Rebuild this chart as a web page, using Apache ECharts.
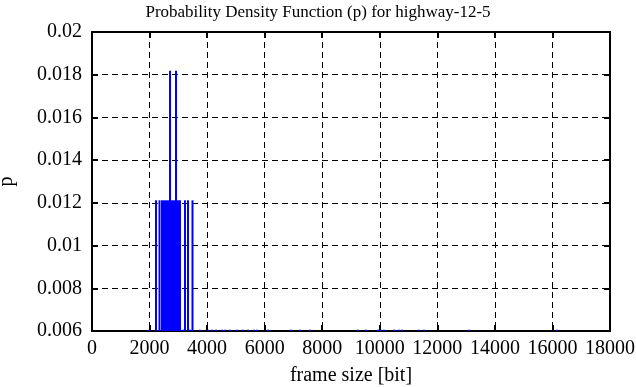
<!DOCTYPE html>
<html>
<head>
<meta charset="utf-8">
<script src="https://cdn.jsdelivr.net/npm/echarts@6/dist/echarts.min.js"></script>
<style>
html,body{margin:0;padding:0;background:#fff;}
#chart{width:636px;height:387px;}
</style>
</head>
<body>
<div id="chart"></div>
<script>
const titleText = 'Probability Density Function (p) for highway-12-5';
const xName = 'frame size [bit]';
const yName = 'p';
const xTicks = [0, 2000, 4000, 6000, 8000, 10000, 12000, 14000, 16000, 18000];
const yTicks = [0.006, 0.008, 0.01, 0.012, 0.014, 0.016, 0.018, 0.02];

const frameSizes = [
  1981, 2224, 2346, 2433, 2502, 2572, 2641, 2711, 2780, 2850, 2919, 2989, 3058,
  3162, 3232, 3336, 3406, 3492, 3753, 4031, 4170, 4309, 4518, 4622, 4796, 5039,
  5247, 5421, 5630, 5734, 6116, 6915, 7228, 7575, 9243, 9521, 9938, 10042, 10147,
  10495, 10668, 10773, 11363, 11537, 13101, 16159
];
const pValues = [
  0.00606, 0.01212, 0.01212, 0.01212, 0.01212, 0.01212, 0.01212, 0.01818, 0.01212, 0.01212, 0.01818, 0.01212, 0.01212,
  0.00606, 0.01212, 0.01212, 0.00606, 0.01212, 0.00606, 0.00606, 0.00606, 0.00606, 0.00606, 0.00606, 0.00606, 0.00606,
  0.00606, 0.00606, 0.00606, 0.00606, 0.00606, 0.00606, 0.00606, 0.00606, 0.00606, 0.00606, 0.00606, 0.00606, 0.00606,
  0.00606, 0.00606, 0.00606, 0.00606, 0.00606, 0.00606, 0.00606
];

const font = 'Liberation Serif';
const black = '#000';
const data = frameSizes.map((x, i) => [x, pValues[i]]);

function baseAxis(extra) {
  return Object.assign({
    type: 'value',
    axisLine: { show: true, onZero: false, lineStyle: { color: black, width: 2 } },
    axisTick: { show: true, inside: true, length: 6, lineStyle: { color: black, width: 2 } },
    minorTick: { show: false },
    splitLine: { show: false },
    axisLabel: { show: false }
  }, extra);
}

const chart = echarts.init(document.getElementById('chart'), null, { renderer: 'canvas' });
chart.setOption({
  animation: false,
  backgroundColor: '#fff',
  title: {
    text: titleText,
    left: 'center', top: -1,
    textStyle: { fontFamily: font, fontSize: 17, fontWeight: 'normal', color: black }
  },
  grid: { left: 92, right: 26, top: 32, bottom: 56, containLabel: false, outerBoundsMode: 'none' },
  xAxis: [
    baseAxis({
      position: 'bottom',
      min: xTicks[0], max: xTicks[xTicks.length - 1], interval: 2000,
      name: xName, nameLocation: 'middle', nameGap: 35,
      nameTextStyle: { fontFamily: font, fontSize: 20, color: black },
      axisLabel: {
        show: true, fontFamily: font, fontSize: 20, color: black, margin: 8,
        formatter: v => String(v)
      },
      splitLine: { show: true, lineStyle: { color: black, type: [6, 4], width: 1 } }
    }),
    baseAxis({
      position: 'top',
      min: xTicks[0], max: xTicks[xTicks.length - 1], interval: 2000
    })
  ],
  yAxis: [
    baseAxis({
      position: 'left',
      min: yTicks[0], max: yTicks[yTicks.length - 1], interval: 0.002,
      name: yName, nameLocation: 'middle', nameGap: 75,
      nameTextStyle: { fontFamily: font, fontSize: 20, color: black },
      axisLabel: {
        show: true, fontFamily: font, fontSize: 20, color: black, margin: 10,
        formatter: v => String(parseFloat(v.toFixed(4)))
      },
      splitLine: { show: true, lineStyle: { color: black, type: [6, 4], width: 1 } }
    }),
    baseAxis({
      position: 'right',
      min: yTicks[0], max: yTicks[yTicks.length - 1], interval: 0.002
    })
  ],
  series: [{
    type: 'bar',
    xAxisIndex: 0, yAxisIndex: 0,
    data: data,
    barWidth: 2,
    clip: true,
    itemStyle: { color: '#0000ff' },
    z: 3
  }]
});
</script>
</body>
</html>
